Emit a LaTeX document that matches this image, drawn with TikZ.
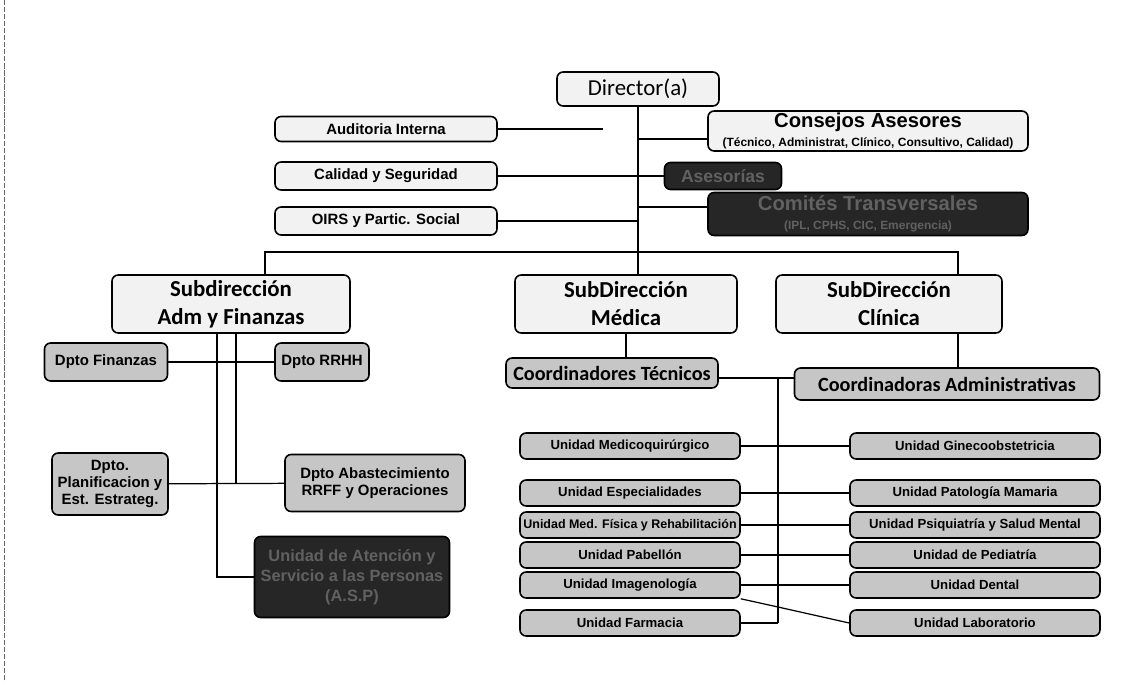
\documentclass[tikz,border=0pt]{standalone}
\usepackage{fontspec}
\setmainfont{Liberation Sans}
\newfontfamily\calfont{Carlito}

\begin{document}
\begin{tikzpicture}[x=0.02cm, y=-0.02cm,
    boxsize/.style 2 args={minimum width=#1*0.02cm, minimum height=#2*0.02cm},
    box/.style={draw, line width=0.9pt, rounded corners=3.5pt, align=center, inner sep=1pt,
        font=\bfseries\fontsize{8.5}{9.5}\selectfont},
    lightbox/.style={box, fill=gray!10},
    midbox/.style={box, fill=gray!45},
    darkbox/.style={box, fill=black!85, text=black!62},
    subbox/.style={lightbox, font=\calfont\bfseries\fontsize{13}{16}\selectfont},
    coordbox/.style={midbox, font=\calfont\bfseries\fontsize{11.5}{13}\selectfont},
    unitbox/.style={midbox, font=\bfseries\fontsize{7.5}{9}\selectfont},
    link/.style={line width=0.7pt}
]
    \useasboundingbox (0,0) rectangle (1144,682);

    % Scan edge
    \draw[black!60, very thin, dash pattern=on 3pt off 1pt] (4,0) -- (4,682);

    % Director and staff
    \node[lightbox, boxsize={162}{34}, font=\calfont\fontsize{13}{15}\selectfont] (dir) at (638,89) {Director(a)};
    \node[lightbox, boxsize={222}{25}] (aud) at (386,129) {Auditoria Interna};
    \node[lightbox, boxsize={222}{28}] (cal) at (386,176) {Calidad y Seguridad};
    \node[lightbox, boxsize={222}{28}] (oirs) at (386,221) {OIRS y Partic. Social};
    \node[lightbox, boxsize={320}{40}] (cons) at (868,131)
        {{\fontsize{11.5}{12}\selectfont Consejos Asesores}\\[1pt]
         {\fontsize{6.8}{7}\selectfont (Técnico, Administrat, Clínico, Consultivo, Calidad)}};
    \node[darkbox, boxsize={117}{27}, font=\bfseries\fontsize{10}{11}\selectfont] (ases) at (723,176) {Asesorías};
    \node[darkbox, boxsize={320}{43}] (com) at (868,214)
        {{\fontsize{11.5}{12}\selectfont Comités Transversales}\\[1pt]
         {\fontsize{6.8}{7}\selectfont (IPL, CPHS, CIC, Emergencia)}};

    % Subdirecciones
    \node[subbox, boxsize={238}{58}] (sadm) at (231,304) {Subdirección\\Adm y Finanzas};
    \node[subbox, boxsize={222}{58}] (smed) at (626,304) {SubDirección\\Médica};
    \node[subbox, boxsize={226}{58}] (scli) at (889,304) {SubDirección\\Clínica};

    % Adm y Finanzas
    \node[midbox, boxsize={123}{38}] (fin) at (106,362) {Dpto Finanzas};
    \node[midbox, boxsize={94}{38}] (rrhh) at (322,362) {Dpto RRHH};
    \node[midbox, boxsize={116}{62}] (plan) at (110,484) {Dpto.\\Planificacion y\\Est. Estrateg.};
    \node[midbox, boxsize={180}{57}] (abas) at (375,483) {Dpto Abastecimiento\\RRFF y Operaciones};
    \node[darkbox, boxsize={195}{81}, font=\bfseries\fontsize{9.3}{11.5}\selectfont] (asp) at (352,577)
        {Unidad de Atención y\\Servicio a las Personas\\(A.S.P)};

    % Coordinadores
    \node[coordbox, boxsize={212}{30}] (ctec) at (612,373) {Coordinadores Técnicos};
    \node[coordbox, boxsize={305}{32}] (cadm) at (947,384) {Coordinadoras Administrativas};

    % Unidades
    \foreach \y/\lt/\rt/\k in {
        446/Unidad Medicoquirúrgico/Unidad Ginecoobstetricia/1,
        493/Unidad Especialidades/Unidad  Patología Mamaria/2,
        525/{\fontsize{7.1}{8}\selectfont Unidad Med. Física y Rehabilitación}/Unidad Psiquiatría y Salud Mental/3,
        555/Unidad Pabellón/Unidad de Pediatría/4,
        585/Unidad Imagenología/Unidad  Dental/5,
        623/Unidad Farmacia/Unidad Laboratorio/6}{
        \node[unitbox, boxsize={220}{26}] (ul\k) at (630,\y) {\lt};
        \node[unitbox, boxsize={250}{26}] (ur\k) at (975,\y) {\rt};
    }

    % Connectors, top
    \coordinate (bus) at (638,252);
    \coordinate (audend) at (603,129);
    \draw[link] (dir) -- (bus);
    \draw[link] (aud) -- (audend);
    \draw[link] (cal) -- (ases);
    \draw[link] (oirs.east) -- (oirs.east -| bus);
    \draw[link] (638,139) -- (cons.west |- 0,139);
    \draw[link] (638,207) -- (com.west |- 0,207);
    \draw[link] (sadm.north -| 265,0) |- (bus) -| (smed.north -| 638,0);
    \draw[link] (bus) -| (scli.north -| 958,0);

    % Connectors, Adm y Finanzas
    \draw[link] (sadm.south -| 217,0) |- (asp.west);
    \draw[link] (sadm.south -| 236,0) -- (236,483);
    \draw[link] (fin) -- (rrhh);
    \draw[link] (plan) -- (abas);

    % Connectors, Medica y Clinica
    \coordinate (vtop) at (778,378);
    \coordinate (vmid) at (778,607);
    \draw[link] (smed.south -| 626,0) -- (ctec.north -| 626,0);
    \draw[link] (scli.south -| 958,0) -- (cadm.north -| 958,0);
    \draw[link] (ctec.east |- vtop) -- (cadm.west |- vtop);
    \draw[link] (vtop) -- (778,623);
    \foreach \k in {1,...,5}
        \draw[link] (ul\k) -- (ur\k);
    \draw[link] (ul5.south east) -- (vmid) -- (ur6.west);
    \draw[link] (ul6) -- (ul6 -| vtop);

\end{tikzpicture}
\end{document}
